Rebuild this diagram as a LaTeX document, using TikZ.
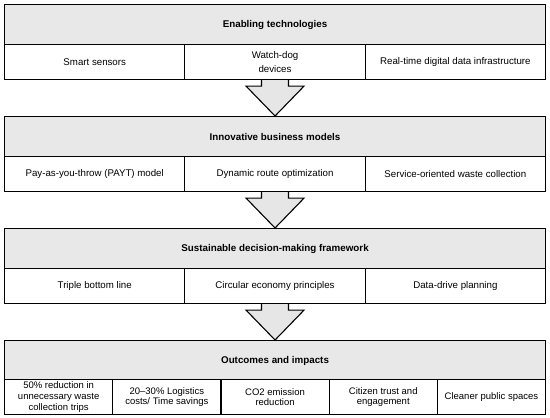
\documentclass[tikz,border=0pt]{standalone}
\usepackage{fontspec}
\setmainfont{Liberation Sans}
\usetikzlibrary{calc}
\definecolor{hdrgray}{HTML}{E8E8E8}
\definecolor{arrgray}{HTML}{E6E6E6}
\tikzset{
  cell/.style={draw=black, line width=1.1pt, fill=white, rectangle, inner sep=1pt,
    align=center, anchor=north west, minimum height=35pt,
    font=\fontsize{9.7}{13.5}\selectfont},
  hdr/.style={draw=black, line width=1.1pt, fill=hdrgray, rectangle, inner sep=1pt,
    align=center, anchor=north west, minimum height=40pt, minimum width=541pt,
    font=\fontsize{9.8}{11}\selectfont\bfseries},
  three/.style={cell, minimum width=180.33pt},
  five/.style={cell, minimum width=108.2pt, font=\fontsize{9.5}{10.6}\selectfont},
  bigarrow/.style={draw=black, line width=1.1pt, fill=arrgray, line join=miter}
}
\newcommand\flowarrow[2]{%
  \draw[bigarrow] ($(#1.south)+(-13.5,0)$) -- ($(#1.south)+(-13.5,6)$)
    -- ($(#1.south)+(-29,6)$) -- (#2.north) -- ($(#1.south)+(29,6)$)
    -- ($(#1.south)+(13.5,6)$) -- ($(#1.south)+(13.5,0)$);%
}
\begin{document}
\begin{tikzpicture}[x=1pt, y=-1pt]
\useasboundingbox (0,0) rectangle (550,418);
% Block 1
\node[hdr] (h1) at (4,4) {Enabling technologies};
\node[three] (a1) at (4,44) {Smart sensors};
\node[three] (a2) at (184.33,44) {Watch-dog\\devices};
\node[three] (a3) at (364.67,44) {Real-time digital data infrastructure};
% Block 2
\node[hdr] (h2) at (4,116) {Innovative business models};
\node[three] (b1) at (4,156) {Pay-as-you-throw (PAYT) model};
\node[three] (b2) at (184.33,156) {Dynamic route optimization};
\node[three] (b3) at (364.67,156) {Service-oriented waste collection};
% Block 3
\node[hdr] (h3) at (4,228) {Sustainable decision-making framework};
\node[three] (c1) at (4,268) {Triple bottom line};
\node[three] (c2) at (184.33,268) {Circular economy principles};
\node[three] (c3) at (364.67,268) {Data-drive planning};
% Block 4
\node[hdr] (h4) at (4,340) {Outcomes and impacts};
\node[five] (d1) at (4,379) {50\% reduction in\\unnecessary waste\\collection trips};
\node[five] (d2) at (112.2,379) {20–30\% Logistics\\costs/ Time savings};
\node[five] (d3) at (220.4,379) {CO2 emission\\reduction};
\node[five] (d4) at (328.6,379) {Citizen trust and\\engagement};
\node[five] (d5) at (436.8,379) {Cleaner public spaces};
% Arrows
\flowarrow{a2}{h2}
\flowarrow{b2}{h3}
\flowarrow{c2}{h4}
\end{tikzpicture}
\end{document}
